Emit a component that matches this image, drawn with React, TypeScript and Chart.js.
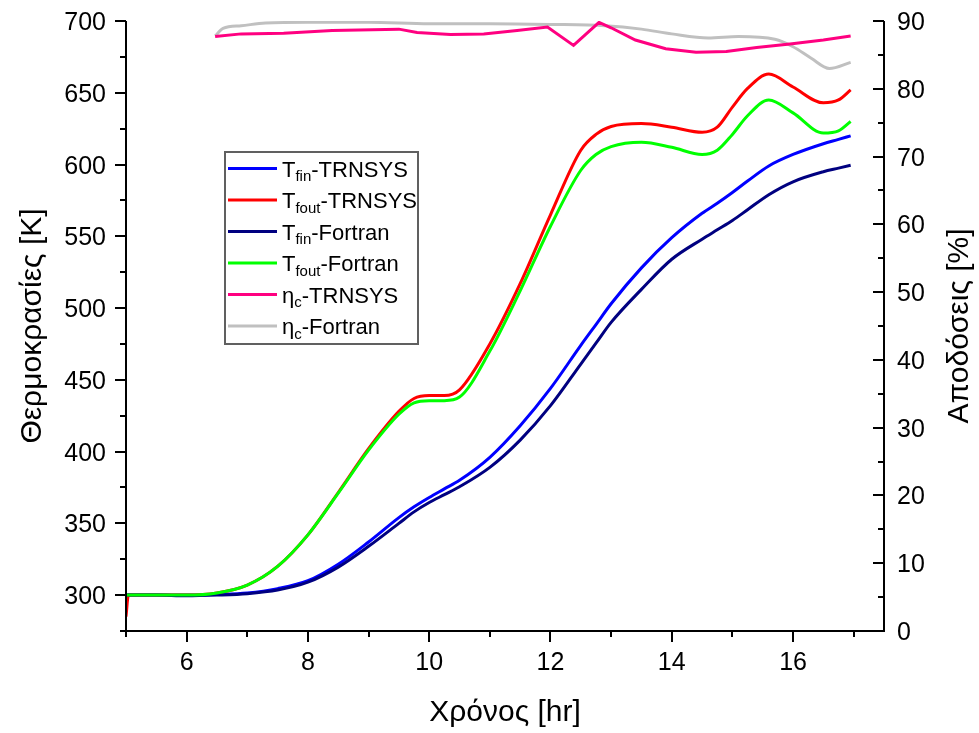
import React, { useEffect, useRef } from "react";
import { Chart, registerables } from "chart.js";

Chart.register(...registerables);

const W = 979;
const H = 733;

// ---- data ----
const tempHours = [5, 5.5, 6, 6.5, 7, 7.5, 8, 8.5, 9, 9.5, 9.75, 10, 10.25, 10.5, 11, 11.5, 12, 12.5, 12.75, 13, 13.5, 14, 14.5, 14.75, 15, 15.25, 15.6, 16, 16.5, 16.75, 16.95];
const tfinTrnsys = [300, 300, 300, 300.5, 301.5, 304.5, 310, 321.5, 337, 354, 361.5, 368, 374, 380, 396, 418, 444, 474, 488.5, 503, 528, 549, 566, 573, 580.5, 588.5, 599, 607, 614.5, 617.5, 620];
const tfinFortran = [300, 300, 299.5, 300, 301, 303.5, 309, 319.5, 334, 350, 358, 364.5, 370, 375.5, 389, 408, 432, 461, 475.5, 490, 513, 534, 548, 554.5, 561, 568.5, 579, 588, 595, 597.5, 599.5];
const tfoutFortran = [300, 300, 300, 301.5, 307, 320, 342, 371, 401, 426, 434, 435.5, 435.5, 438, 470, 512, 557, 596, 607, 612.5, 615.5, 612, 607, 610, 621, 634, 645, 636, 622, 623.5, 630];

const tfoutTrnsysHours = [5, 5.04, 5.5, 6, 6.5, 7, 7.5, 8, 8.5, 9, 9.5, 9.75, 10, 10.25, 10.5, 11, 11.5, 12, 12.5, 12.75, 13, 13.5, 14, 14.5, 14.75, 15, 15.25, 15.6, 16, 16.5, 16.75, 16.95];
const tfoutTrnsys = [285, 300, 300, 300, 301.5, 307, 320, 342, 371.5, 402, 428, 437, 439, 439, 443, 475, 517, 565, 610, 621, 626.5, 628.5, 626, 622.5, 626, 640, 653, 663, 654, 643, 645, 652];

const etaTrnsysHours = [6.47, 6.9, 7.6, 8.4, 9.5, 9.8, 10.35, 10.9, 11.45, 11.95, 12.38, 12.8, 13.0, 13.4, 13.9, 14.4, 14.9, 15.4, 15.95, 16.5, 16.95];
const etaTrnsys = [87.7, 88.1, 88.2, 88.6, 88.8, 88.3, 88.0, 88.1, 88.6, 89.1, 86.4, 89.8, 89.0, 87.2, 85.9, 85.4, 85.5, 86.1, 86.6, 87.2, 87.8];

const etaFortranHours = [6.47, 6.6, 6.9, 7.3, 8, 9, 10, 11, 12, 12.9, 13.5, 14, 14.6, 15.1, 15.7, 16.0, 16.3, 16.6, 16.95];
const etaFortran = [87.8, 88.9, 89.3, 89.7, 89.8, 89.8, 89.6, 89.6, 89.5, 89.3, 88.8, 88.1, 87.5, 87.7, 87.3, 86.2, 84.5, 83.0, 83.9];

const xMajorTicks = [6, 8, 10, 12, 14, 16];
const xMinorTicks = [5, 7, 9, 11, 13, 15, 17];
const leftMajorTicks = [300, 350, 400, 450, 500, 550, 600, 650, 700];
const leftMinorTicks = [275, 325, 375, 425, 475, 525, 575, 625, 675];
const rightMajorTicks = [0, 10, 20, 30, 40, 50, 60, 70, 80, 90];
const rightMinorTicks = [5, 15, 25, 35, 45, 55, 65, 75, 85];

const legendItems = [
  { main: "T", sub: "fin", rest: "-TRNSYS", color: "#0000FF" },
  { main: "T", sub: "fout", rest: "-TRNSYS", color: "#FF0000" },
  { main: "T", sub: "fin", rest: "-Fortran", color: "#000080" },
  { main: "T", sub: "fout", rest: "-Fortran", color: "#00FF00" },
  { main: "η", sub: "c", rest: "-TRNSYS", color: "#FF0080" },
  { main: "η", sub: "c", rest: "-Fortran", color: "#C0C0C0" },
];

const FONT = "'Liberation Sans', Arial, sans-serif";

const pts = (xs: number[], ys: number[]) => xs.map((x, i) => ({ x, y: ys[i] }));

const customPlugin = {
  id: "customAxes",
  afterDatasetsDraw(chart: any) {
    const ctx: CanvasRenderingContext2D = chart.ctx;
    const { left, right, top, bottom } = chart.chartArea;
    const sx = chart.scales.x;
    const sy = chart.scales.y;
    const sy2 = chart.scales.y2;
    ctx.save();
    ctx.strokeStyle = "#000";
    ctx.lineWidth = 2;
    const ln = (x1: number, y1: number, x2: number, y2: number) => {
      ctx.beginPath();
      ctx.moveTo(x1, y1);
      ctx.lineTo(x2, y2);
      ctx.stroke();
    };
    // axis lines
    ln(left, top, left, bottom + 1);
    ln(right, top, right, bottom + 1);
    ln(left - 1, bottom, right + 1, bottom);
    // bottom ticks
    xMajorTicks.forEach((v) => {
      const px = Math.round(sx.getPixelForValue(v));
      ln(px, bottom, px, bottom + 11);
    });
    xMinorTicks.forEach((v) => {
      const px = Math.round(sx.getPixelForValue(v));
      ln(px, bottom, px, bottom + 6);
    });
    // left ticks (outward)
    leftMajorTicks.forEach((v) => {
      const py = Math.round(sy.getPixelForValue(v));
      ln(left - 11, py, left, py);
    });
    leftMinorTicks.forEach((v) => {
      const py = Math.round(sy.getPixelForValue(v));
      ln(left - 6, py, left, py);
    });
    // right ticks (inward)
    rightMajorTicks.forEach((v) => {
      const py = Math.round(sy2.getPixelForValue(v));
      ln(right - 11, py, right, py);
    });
    rightMinorTicks.forEach((v) => {
      const py = Math.round(sy2.getPixelForValue(v));
      ln(right - 6, py, right, py);
    });

    // tick labels
    ctx.fillStyle = "#000";
    ctx.font = `25px ${FONT}`;
    ctx.textBaseline = "alphabetic";
    ctx.textAlign = "center";
    xMajorTicks.forEach((v) => {
      ctx.fillText(String(v), sx.getPixelForValue(v), 670);
    });
    ctx.textAlign = "right";
    leftMajorTicks.forEach((v) => {
      ctx.fillText(String(v), 106, sy.getPixelForValue(v) + 9);
    });
    ctx.textAlign = "left";
    rightMajorTicks.forEach((v) => {
      ctx.fillText(String(v), 897, sy2.getPixelForValue(v) + 9);
    });

    // axis titles
    ctx.font = `30px ${FONT}`;
    ctx.textAlign = "center";
    ctx.fillText("Χρόνος [hr]", (left + right) / 2, 721);
    const midY = (top + bottom) / 2;
    ctx.save();
    ctx.translate(41, midY);
    ctx.rotate(-Math.PI / 2);
    ctx.fillText("Θερμοκρασίες [K]", 0, 0);
    ctx.restore();
    ctx.save();
    ctx.translate(968, midY);
    ctx.rotate(-Math.PI / 2);
    ctx.fillText("Αποδόσεις [%]", 0, 0);
    ctx.restore();

    // legend
    const bx = 225, by = 152, bw = 193, bh = 192;
    ctx.fillStyle = "#fff";
    ctx.fillRect(bx, by, bw, bh);
    ctx.strokeStyle = "#606060";
    ctx.lineWidth = 2;
    ctx.strokeRect(bx, by, bw, bh);
    legendItems.forEach((it, i) => {
      const ly = 168.5 + i * 31.5;
      ctx.strokeStyle = it.color;
      ctx.lineWidth = 3;
      ln(228, ly, 277, ly);
      ctx.fillStyle = "#000";
      ctx.textAlign = "left";
      let tx = 282;
      ctx.font = `22px ${FONT}`;
      ctx.fillText(it.main, tx, ly + 8);
      tx += ctx.measureText(it.main).width;
      ctx.font = `15px ${FONT}`;
      ctx.fillText(it.sub, tx, ly + 12.5);
      tx += ctx.measureText(it.sub).width;
      ctx.font = `22px ${FONT}`;
      ctx.fillText(it.rest, tx, ly + 8);
    });
    ctx.restore();
  },
};

export default function App() {
  const ref = useRef<HTMLCanvasElement | null>(null);
  useEffect(() => {
    if (!ref.current) return;
    const common = {
      fill: false,
      pointRadius: 0,
      borderWidth: 3,
      cubicInterpolationMode: "monotone" as const,
    };
    const chart = new Chart(ref.current, {
      type: "line",
      data: {
        datasets: [
          { ...common, label: "Tfin-TRNSYS", data: pts(tempHours, tfinTrnsys), borderColor: "#0000FF", yAxisID: "y", order: 6 },
          { ...common, label: "Tfout-TRNSYS", data: pts(tfoutTrnsysHours, tfoutTrnsys), borderColor: "#FF0000", yAxisID: "y", order: 5 },
          { ...common, label: "Tfin-Fortran", data: pts(tempHours, tfinFortran), borderColor: "#000080", yAxisID: "y", order: 4 },
          { ...common, label: "Tfout-Fortran", data: pts(tempHours, tfoutFortran), borderColor: "#00FF00", yAxisID: "y", order: 3 },
          { ...common, label: "ηc-TRNSYS", data: pts(etaTrnsysHours, etaTrnsys), borderColor: "#FF0080", yAxisID: "y2", order: 1, cubicInterpolationMode: "default" as const, tension: 0 },
          { ...common, label: "ηc-Fortran", data: pts(etaFortranHours, etaFortran), borderColor: "#C0C0C0", yAxisID: "y2", order: 2 },
        ],
      },
      options: {
        animation: false,
        responsive: false,
        devicePixelRatio: 1,
        layout: { padding: { left: 126, right: W - 884, top: 21, bottom: H - 631 } },
        plugins: { legend: { display: false }, tooltip: { enabled: false } },
        scales: {
          x: { type: "linear", min: 5, max: 17.5, display: false },
          y: { type: "linear", position: "left", min: 275, max: 700, display: false },
          y2: { type: "linear", position: "right", min: 0, max: 90, display: false },
        },
      },
      plugins: [customPlugin],
    } as any);
    return () => chart.destroy();
  }, []);
  return (
    <div style={{ position: "fixed", left: 0, top: 0, width: W, height: H, background: "#fff" }}>
      <canvas ref={ref} width={W} height={H} style={{ display: "block", width: W, height: H }} />
    </div>
  );
}
